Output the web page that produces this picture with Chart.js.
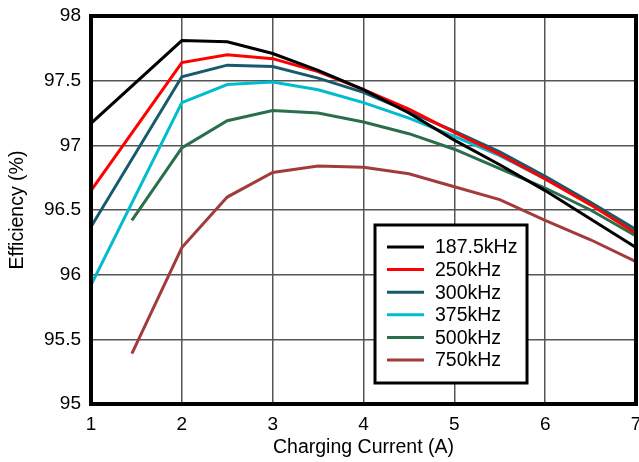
<!DOCTYPE html>
<html>
<head>
<meta charset="utf-8">
<script src="https://cdn.jsdelivr.net/npm/chart.js@4.4.1/dist/chart.umd.min.js"></script>
<style>
  html, body { margin: 0; padding: 0; background: #fff; }
  #wrap { width: 639px; height: 462px; position: relative; }
</style>
</head>
<body>
<div id="wrap"><canvas id="chart" width="639" height="462"></canvas></div>
<script>
// data
const currentFull = [1, 2, 2.5, 3, 3.5, 4, 4.5, 5, 5.5, 6, 6.5, 7];
const currentShort = [1.45, 2, 2.5, 3, 3.5, 4, 4.5, 5, 5.5, 6, 6.5, 7];

const eff187 = [97.17, 97.81, 97.80, 97.71, 97.58, 97.43, 97.25, 97.04, 96.85, 96.65, 96.43, 96.21];
const eff250 = [96.65, 97.64, 97.70, 97.67, 97.57, 97.43, 97.28, 97.10, 96.93, 96.74, 96.54, 96.32];
const eff300 = [96.37, 97.53, 97.62, 97.61, 97.52, 97.41, 97.26, 97.11, 96.95, 96.76, 96.56, 96.35];
const eff375 = [95.92, 97.33, 97.47, 97.49, 97.43, 97.33, 97.21, 97.07, 96.92, 96.74, 96.55, 96.34];
const eff500 = [96.42, 96.98, 97.19, 97.27, 97.25, 97.18, 97.09, 96.97, 96.82, 96.67, 96.50, 96.30];
const eff750 = [95.39, 96.21, 96.60, 96.79, 96.84, 96.83, 96.78, 96.68, 96.58, 96.42, 96.27, 96.10];

const seriesLabels = ["187.5kHz", "250kHz", "300kHz", "375kHz", "500kHz", "750kHz"];
const seriesColors = ["#000000", "#ff0000", "#175a6c", "#00bccf", "#2a6e4c", "#a23c3c"];

const xTicks = [1, 2, 3, 4, 5, 6, 7];
const yTicks = [95, 95.5, 96, 96.5, 97, 97.5, 98];
const yTickText = ["95", "95.5", "96", "96.5", "97", "97.5", "98"];

const FONT = "'Liberation Sans', Arial, sans-serif";

function pts(xs, ys) {
  return ys.map((v, i) => ({ x: xs[i], y: v }));
}

const allData = [
  pts(currentFull, eff187),
  pts(currentFull, eff250),
  pts(currentFull, eff300),
  pts(currentFull, eff375),
  pts(currentShort, eff500),
  pts(currentShort, eff750)
];

// frame + in-plot legend box
const framePlugin = {
  id: "frame",
  afterDatasetsDraw(chart) {
    const { ctx, chartArea: a } = chart;
    ctx.save();
    ctx.strokeStyle = "#000";
    ctx.lineWidth = 4;
    ctx.strokeRect(a.left, a.top, a.right - a.left, a.bottom - a.top);

    // legend
    const bx = 375, by = 225, bw = 152, bh = 158;
    ctx.fillStyle = "#fff";
    ctx.fillRect(bx, by, bw, bh);
    ctx.lineWidth = 3;
    ctx.strokeRect(bx, by, bw, bh);
    ctx.font = "19.5px " + FONT;
    ctx.textBaseline = "middle";
    chart.data.datasets.forEach((ds, i) => {
      const yy = by + 22 + i * 22.6;
      ctx.strokeStyle = ds.borderColor;
      ctx.lineWidth = 3;
      ctx.beginPath();
      ctx.moveTo(bx + 12, yy);
      ctx.lineTo(bx + 49, yy);
      ctx.stroke();
      ctx.fillStyle = "#000";
      ctx.fillText(ds.label, bx + 60, yy + 1);
    });
    ctx.restore();
  }
};

const canvas = document.getElementById("chart");
const ctx = canvas.getContext("2d");

new Chart(ctx, {
  type: "line",
  data: {
    datasets: seriesLabels.map((lab, i) => ({
      label: lab,
      data: allData[i],
      borderColor: seriesColors[i],
      backgroundColor: seriesColors[i],
      borderWidth: 3,
      pointRadius: 0,
      tension: 0,
      fill: false
    }))
  },
  options: {
    responsive: false,
    animation: false,
    layout: { padding: { left: 0, right: 3, top: 16, bottom: 0 } },
    plugins: {
      legend: { display: false },
      tooltip: { enabled: false }
    },
    scales: {
      x: {
        type: "linear",
        min: 1,
        max: 7,
        afterBuildTicks(scale) { scale.ticks = xTicks.map(v => ({ value: v })); },
        afterFit(scale) {
          scale.height = 58;
          scale.paddingLeft = 0;
          scale.paddingRight = 0;
        },
        ticks: { color: "#000", font: { family: FONT, size: 19 }, padding: 9, maxRotation: 0 },
        grid: { color: "#555", lineWidth: 1.5, drawTicks: false },
        border: { display: false },
        title: { display: true, text: "Charging Current (A)", color: "#000", font: { family: FONT, size: 19.5 }, padding: { top: 0, bottom: 3 } }
      },
      y: {
        min: 95,
        max: 98,
        afterBuildTicks(scale) { scale.ticks = yTicks.map(v => ({ value: v })); },
        afterFit(scale) {
          scale.width = 91;
          scale.paddingTop = 0;
          scale.paddingBottom = 0;
        },
        ticks: {
          color: "#000",
          font: { family: FONT, size: 19 },
          padding: 10,
          callback: (v) => yTickText[yTicks.indexOf(v)]
        },
        grid: { color: "#555", lineWidth: 1.5, drawTicks: false },
        border: { display: false },
        title: { display: true, text: "Efficiency (%)", color: "#000", font: { family: FONT, size: 19.5 }, padding: { top: 6, bottom: 0 } }
      }
    }
  },
  plugins: [framePlugin]
});
</script>
</body>
</html>
